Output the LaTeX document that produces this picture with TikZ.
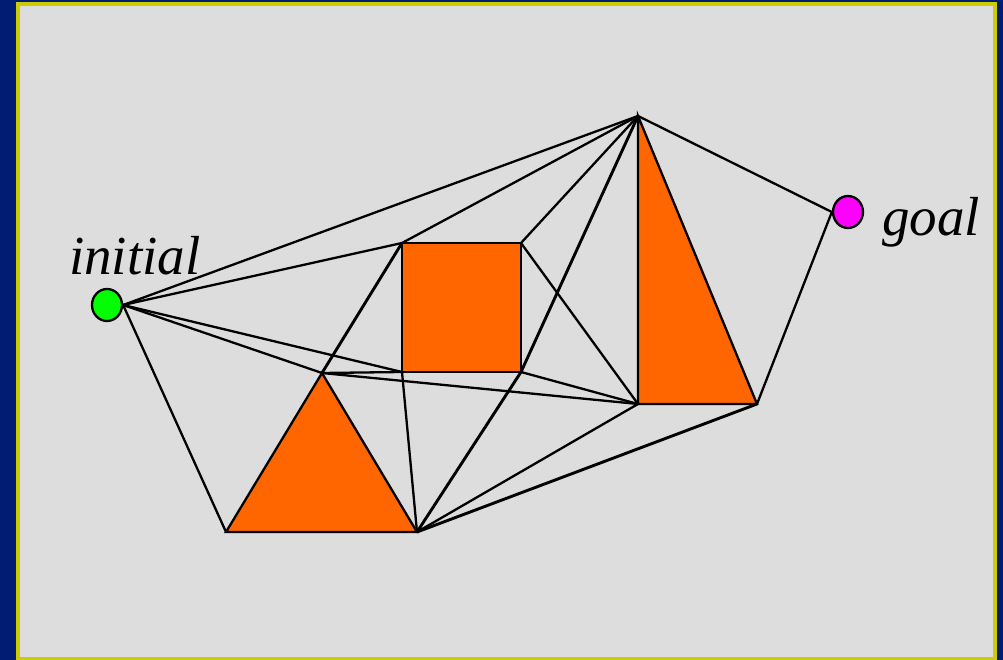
\documentclass[tikz,border=0pt]{standalone}
\usepackage{fontspec}
\setmainfont{Liberation Serif}
\usetikzlibrary{shapes.geometric}
\definecolor{bluebg}{RGB}{0,28,115}
\definecolor{frameY}{RGB}{204,204,0}
\definecolor{panel}{RGB}{221,221,221}
\definecolor{obst}{RGB}{255,102,0}
\definecolor{startc}{RGB}{0,255,0}
\definecolor{goalc}{RGB}{255,0,255}
\begin{document}
\begin{tikzpicture}[x=1pt,y=-1pt,
  edge/.style={line width=2.3pt, black},
  thickedge/.style={line width=2.9pt, black},
  obstacle/.style={fill=obst, draw=black, line width=2.3pt, line join=miter},
  endpoint/.style={ellipse, draw=black, line width=2.3pt, minimum width=30pt, minimum height=32pt, inner sep=0pt},
  lbl/.style={font=\fontsize{55}{62}\selectfont\itshape, inner sep=0pt, anchor=base west}]
\fill[bluebg] (0,0) rectangle (1003,660);
\fill[frameY] (16,2) rectangle (997,660);
\fill[panel] (20,6) rectangle (993,657);
\useasboundingbox (0,0) rectangle (1003,660);
% vertices
\coordinate (T) at (638,116);
\coordinate (RBL) at (638,404);
\coordinate (RBR) at (757,404);
\coordinate (STL) at (402,243);
\coordinate (STR) at (521,243);
\coordinate (SBR) at (521,372);
\coordinate (SBL) at (402,372);
\coordinate (A) at (322,373);
\coordinate (LBL) at (226,532);
\coordinate (LBR) at (417,532);
% obstacles
\filldraw[obstacle] (STL) -- (STR) -- (SBR) -- (SBL) -- cycle;
\filldraw[obstacle] (A) -- (LBR) -- (LBL) -- cycle;
\filldraw[obstacle] (T) -- (RBR) -- (RBL) -- cycle;
% endpoints
\node[endpoint, fill=startc] (init) at (107,305) {};
\node[endpoint, fill=goalc] (goal) at (848,212) {};
\coordinate (I) at (init.east);
\coordinate (G) at (goal.west);
% visibility edges
\draw[edge] (I) -- (T);
\draw[edge] (I) -- (STL);
\draw[edge] (I) -- (SBL);
\draw[edge] (I) -- (A);
\draw[edge] (I) -- (LBL);
\draw[edge] (T) -- (STL);
\draw[edge] (T) -- (STR);
\draw[thickedge] (T) -- (SBR);
\draw[edge] (T) -- (G);
\draw[thickedge] (STL) -- (A);
\draw[edge] (STR) -- (RBL);
\draw[edge] (SBR) -- (RBL);
\draw[thickedge] (SBR) -- (LBR);
\draw[edge] (A) -- (SBL);
\draw[edge] (A) -- (RBL);
\draw[edge] (SBL) -- (LBR);
\draw[edge] (LBR) -- (RBL);
\draw[thickedge] (LBR) -- (RBR);
\draw[edge] (RBR) -- (G);
% labels
\node[lbl] (initlbl) at (69,274) {initial};
\node[lbl] (goallbl) at (882,236) {goal};
\end{tikzpicture}
\end{document}
